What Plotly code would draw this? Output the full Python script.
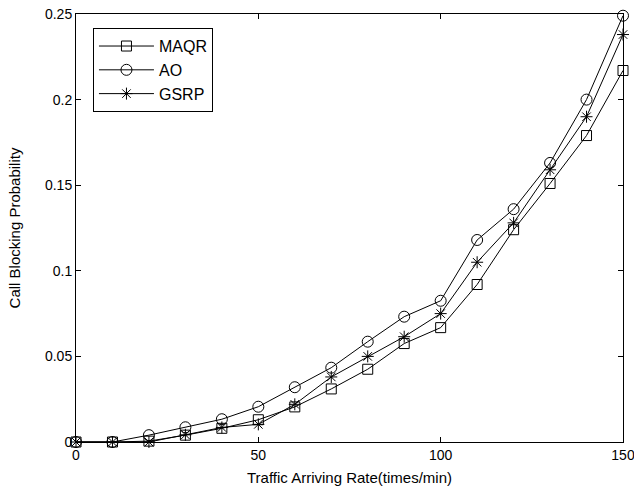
import plotly.graph_objects as go

rate = [0, 10, 20, 30, 40, 50, 60, 70, 80, 90, 100, 110, 120, 130, 140, 150]
maqr = [0, 0, 0.0005, 0.004, 0.008, 0.013, 0.0205, 0.031, 0.0425, 0.0575, 0.0668, 0.092, 0.124, 0.151, 0.179, 0.217]
ao = [0, 0, 0.004, 0.0086, 0.0133, 0.0206, 0.032, 0.0434, 0.0586, 0.0732, 0.0825, 0.118, 0.136, 0.163, 0.200, 0.249]
gsrp = [0, 0, 0, 0.0042, 0.0085, 0.0103, 0.022, 0.038, 0.050, 0.0615, 0.075, 0.105, 0.128, 0.159, 0.190, 0.238]

x_ticks = [0, 50, 100, 150]
y_ticks = [0, 0.05, 0.1, 0.15, 0.2, 0.25]
y_tick_labels = ["0", "0.05", "0.1", "0.15", "0.2", "0.25"]

fig = go.Figure()
common = dict(mode="lines+markers", line=dict(color="black", width=1), cliponaxis=False)
fig.add_trace(go.Scatter(x=rate, y=maqr, name="MAQR", legendgroup="a",
                         marker=dict(symbol="square-open", size=10, color="black", line=dict(width=1)), **common))
fig.add_trace(go.Scatter(x=rate, y=ao, name="AO", legendgroup="b",
                         marker=dict(symbol="circle-open", size=11, color="black", line=dict(width=1)), **common))
fig.add_trace(go.Scatter(x=rate, y=gsrp, name="GSRP", legendgroup="c",
                         marker=dict(symbol="asterisk-open", size=10, color="black", line=dict(width=1)), **common))

axis_common = dict(showgrid=False, zeroline=False, showline=True, linecolor="black", linewidth=1,
                   mirror="ticks", ticks="inside", ticklen=5, tickcolor="black", automargin=False,
                   ticklabeloverflow="allow",
                   tickfont=dict(family="Liberation Sans, Arial", size=14, color="black"))

fig.update_layout(
    width=634, height=488,
    margin=dict(l=76, r=11, t=14, b=46),
    paper_bgcolor="white", plot_bgcolor="white",
    font=dict(family="Liberation Sans, Arial", size=14, color="black"),
    xaxis=dict(range=[0, 150], tickvals=x_ticks, title=dict(text="Traffic Arriving Rate(times/min)", standoff=10,
                                                             font=dict(size=15)), **axis_common),
    yaxis=dict(range=[0, 0.25], tickvals=y_ticks, ticktext=y_tick_labels,
               title=dict(text="Call Blocking Probability", standoff=20, font=dict(size=15)), **axis_common),
    legend=dict(x=0.031, y=0.967, xanchor="left", yanchor="top", bgcolor="white",
                bordercolor="black", borderwidth=1, font=dict(size=16), itemwidth=55,
                tracegroupgap=0),
    showlegend=True,
)

fig.write_html("out.html", config={"displayModeBar": False},
               post_script="document.body.style.margin='0';document.body.style.overflow='hidden';")
